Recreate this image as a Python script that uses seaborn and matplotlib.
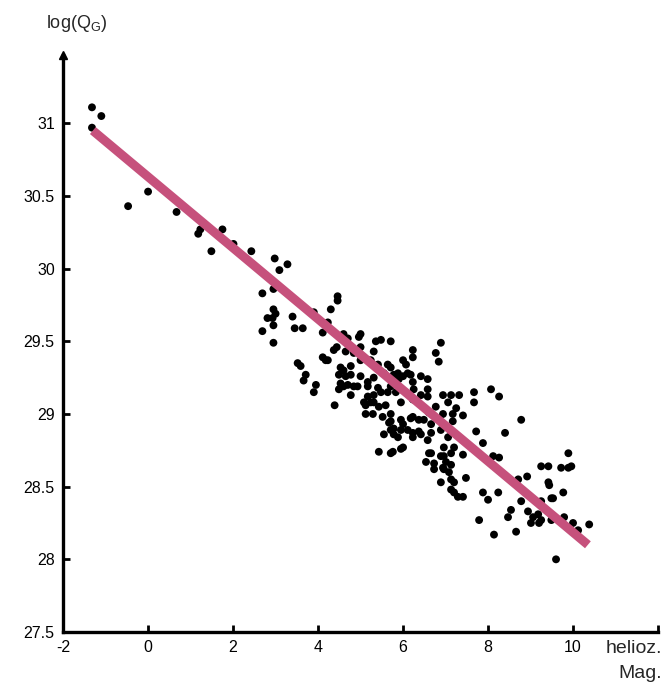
import numpy as np
import pandas as pd
import matplotlib
matplotlib.use("Agg")
import matplotlib.pyplot as plt
import seaborn as sns

# ─── DATA ─────────────────────────────────────────────────
mag = [
    -1.32, -1.10, -1.32, -0.47, 0.00, 0.67, 1.18, 1.23, 1.49, 1.75, 2.01, 2.43, 2.98, 3.28, 3.09,
    2.69, 2.95, 4.46, 4.46, 4.30, 2.95, 3.00, 2.81, 2.93, 3.40, 2.69, 2.95, 3.45, 3.64, 2.95,
    3.90, 4.23, 4.11, 4.60, 4.70, 4.96, 4.44, 4.65, 3.52, 3.59, 4.18, 4.53, 4.77,
    5.36, 5.48, 5.71, 5.00, 5.31, 5.24, 6.23, 6.23, 6.00, 6.07, 6.89, 6.77, 6.84, 5.71, 4.60,
    4.77, 5.00, 5.31, 5.55, 5.88, 5.90, 6.18, 6.23, 6.58, 4.60, 4.93, 5.17, 5.41, 5.71, 5.95,
    6.25, 6.58, 4.77, 5.31, 5.64, 6.42, 7.13,
    5.48, 5.83, 6.94, 5.08, 5.31, 5.59, 5.95, 6.23, 6.77, 7.06, 7.25, 5.12, 5.29, 5.71, 6.23,
    6.37, 6.61, 6.94, 7.17, 5.67, 5.95, 5.78, 5.95, 6.23, 6.42, 6.66, 6.89, 7.13, 5.88, 6.23,
    6.58, 7.06, 5.43, 5.71, 5.95, 6.66, 6.96, 7.13, 6.54, 6.89, 7.01, 7.13, 6.73, 6.94, 7.08,
    6.89, 7.13, 7.13, 7.29,
    7.32, 7.67, 7.67, 8.07, 8.26, 8.78, 7.41, 7.17, 7.72, 8.40, 7.88,
    7.20, 7.41, 8.12, 8.26, 9.25, 9.42, 9.72, 9.89, 9.89, 7.48, 7.20, 7.20, 7.41, 7.88, 8.24,
    8.00, 8.71, 8.92, 9.42, 9.77, 8.78, 9.25, 9.49, 8.54, 8.47, 8.94, 9.06, 9.18, 9.01, 9.20,
    9.49, 9.79, 7.79, 8.66, 8.14, 9.60,
    9.96, 9.44, 9.53, 10.00, 10.12, 10.38, 9.25,
    3.71, 3.66, 3.90, 4.39, 4.49, 4.65, 4.53, 4.70, 4.84, 4.49, 5.17, 5.17, 5.12, 5.24, 5.43,
    5.52, 5.71, 6.00, 5.71, 5.78, 6.11, 6.37, 5.76, 6.00, 5.55, 6.18, 6.49, 6.66, 6.61, 6.73,
    6.96, 6.96, 5.00, 4.37, 4.11, 4.23, 4.84, 5.00, 5.17, 5.41, 5.64, 5.78, 6.11, 6.42, 6.00,
    6.58, 3.95,
]
log_q = [
    31.11, 31.05, 30.97, 30.43, 30.53, 30.39, 30.24, 30.27, 30.12, 30.27, 30.17, 30.12, 30.07, 30.03, 29.99,
    29.83, 29.86, 29.81, 29.78, 29.72, 29.72, 29.69, 29.66, 29.66, 29.67, 29.57, 29.61, 29.59, 29.59, 29.49,
    29.70, 29.63, 29.56, 29.55, 29.52, 29.53, 29.46, 29.43, 29.35, 29.33, 29.37, 29.32, 29.33,
    29.50, 29.51, 29.50, 29.46, 29.43, 29.37, 29.44, 29.39, 29.37, 29.34, 29.49, 29.42, 29.36, 29.32, 29.30,
    29.27, 29.26, 29.25, 29.28, 29.28, 29.24, 29.27, 29.22, 29.24, 29.19, 29.19, 29.19, 29.18, 29.19, 29.17,
    29.17, 29.17, 29.13, 29.13, 29.15, 29.13, 29.13,
    29.15, 29.15, 29.13, 29.08, 29.08, 29.06, 29.08, 29.10, 29.05, 29.08, 29.04, 29.00, 29.00, 29.00, 28.98,
    28.96, 29.01, 29.00, 29.00, 28.94, 28.96, 28.90, 28.89, 28.87, 28.86, 28.87, 28.89, 28.88, 28.84, 28.84,
    28.82, 28.84, 28.74, 28.73, 28.76, 28.73, 28.77, 28.73, 28.67, 28.71, 28.67, 28.65, 28.62, 28.63, 28.60,
    28.53, 28.55, 28.48, 28.43,
    29.13, 29.15, 29.08, 29.17, 29.12, 28.96, 28.99, 28.95, 28.88, 28.87, 28.80,
    28.77, 28.72, 28.71, 28.70, 28.64, 28.64, 28.63, 28.63, 28.73, 28.56, 28.53, 28.46, 28.43, 28.46, 28.46,
    28.41, 28.55, 28.57, 28.53, 28.46, 28.40, 28.40, 28.42, 28.34, 28.29, 28.33, 28.29, 28.31, 28.25, 28.25,
    28.27, 28.29, 28.27, 28.19, 28.17, 28.00,
    28.64, 28.51, 28.42, 28.25, 28.20, 28.24, 28.27,
    29.27, 29.23, 29.15, 29.06, 29.27, 29.26, 29.21, 29.20, 29.19, 29.17, 29.22, 29.12, 29.06, 29.08, 29.05,
    28.98, 28.95, 28.93, 28.89, 28.86, 28.89, 28.88, 28.74, 28.77, 28.86, 28.97, 28.96, 28.93, 28.73, 28.66,
    28.71, 28.62, 29.55, 29.44, 29.39, 29.37, 29.42, 29.37, 29.37, 29.34, 29.34, 29.27, 29.28, 29.26, 29.26,
    29.12, 29.20,
]

# fitted line (end points)
fit_mag = [-1.3, 10.35]
fit_logq = [30.95, 28.10]

x_ticks = [-2, 0, 2, 4, 6, 8, 10, 12]
x_labels = ["-2", "0", "2", "4", "6", "8", "10", ""]
y_ticks = [27.5, 28, 28.5, 29, 29.5, 30, 30.5, 31]
y_labels = ["27.5", "28", "28.5", "29", "29.5", "30", "30.5", "31"]

df = pd.DataFrame({"mag": mag, "logq": log_q})
fit = pd.DataFrame({"mag": fit_mag, "logq": fit_logq})

# ─── STYLE ────────────────────────────────────────────────
sns.set_style("ticks")
plt.rcParams["font.family"] = ["Liberation Sans", "DejaVu Sans"]

fig = plt.figure(figsize=(6.64, 6.91), dpi=100)
ax = fig.add_axes([0.095, 0.0854, 0.896, 0.835])

sns.lineplot(data=fit, x="mag", y="logq", ax=ax, color="#c6517c",
             linewidth=6.5, solid_capstyle="butt", zorder=3)
sns.scatterplot(data=df, x="mag", y="logq", ax=ax, color="black",
                s=32, edgecolor="none", zorder=2)

ax.set_xlim(-2, 12)
ax.set_ylim(27.5, 31.47)
ax.set_xticks(x_ticks)
ax.set_xticklabels(x_labels)
ax.set_yticks(y_ticks)
ax.set_yticklabels(y_labels)
ax.set_xlabel("")
ax.set_ylabel("")
ax.tick_params(direction="in", length=5, width=2, labelsize=11.5, pad=6, colors="black")

sns.despine(ax=ax)
for side in ["left", "bottom"]:
    ax.spines[side].set_linewidth(2.4)
    ax.spines[side].set_color("black")

# arrow on top of y-axis
ax.plot(0, 1, marker="^", color="black", markersize=6, transform=ax.transAxes, clip_on=False)

fig.text(0.115, 0.966, r"log(Q$_\mathregular{G}$)", ha="center", va="center", fontsize=13)
fig.text(0.997, 0.061, "helioz.", ha="right", va="center", fontsize=14)
fig.text(0.997, 0.026, "Mag.", ha="right", va="center", fontsize=14)

plt.savefig("out.png", dpi=100)
plt.close()
